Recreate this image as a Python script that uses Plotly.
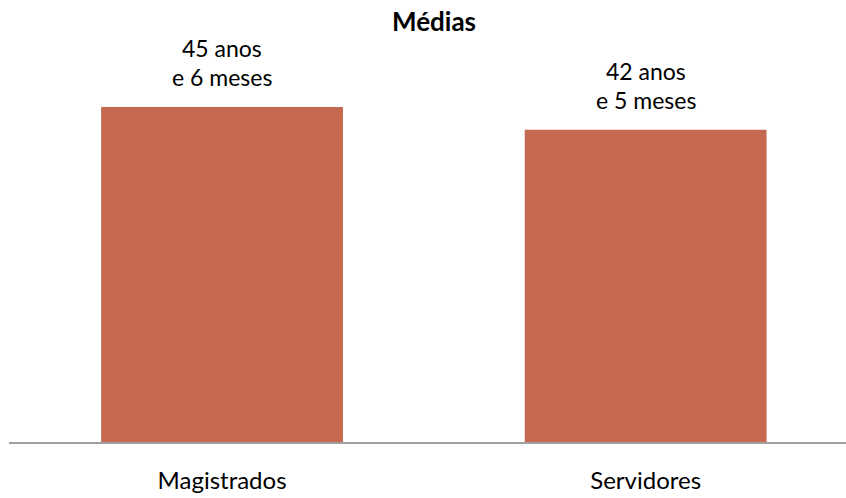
import plotly.graph_objects as go

categories = ["Magistrados", "Servidores"]
values = [45.5, 42.4167]  # average age in years
line1 = ["45 anos", "42 anos"]
line2 = ["e 6 meses", "e 5 meses"]

FONT = "Lato, Open Sans, sans-serif"
VAL_SIZE = 23

fig = go.Figure(go.Bar(
    x=categories, y=values,
    marker=dict(color="#C56A50", line=dict(width=0)),
    hoverinfo="skip",
))

for c, v, a, b in zip(categories, values, line1, line2):
    fig.add_annotation(x=c, y=v, text=b, showarrow=False, yanchor="bottom",
                       yshift=14, font=dict(size=VAL_SIZE, color="#000", family=FONT))
    fig.add_annotation(x=c, y=v, text=a, showarrow=False, yanchor="bottom",
                       yshift=43, font=dict(size=VAL_SIZE, color="#000", family=FONT))

fig.update_layout(
    width=846, height=498,
    margin=dict(l=9, r=0, t=40, b=56, autoexpand=False),
    paper_bgcolor="white", plot_bgcolor="white",
    bargap=0.429,
    showlegend=False,
    title=dict(text="<b>Médias</b>", x=0.513, xanchor="center", xref="container",
               y=1 - 22 / 498, yanchor="middle", yref="container",
               font=dict(size=26, color="#000", family=FONT)),
    font=dict(family=FONT, size=VAL_SIZE, color="#000"),
)
fig.update_xaxes(range=[-0.503, 1.473], showline=True, linecolor="#A0A0A0", linewidth=2,
                 ticks="", ticklabelstandoff=16, tickfont=dict(size=24, family=FONT),
                 showgrid=False, fixedrange=True, automargin=False)
fig.update_yaxes(range=[0, 54.6], visible=False, showgrid=False, zeroline=False,
                 automargin=False)

fig.write_html("out.html", config={"displayModeBar": False},
               post_script="document.body.style.margin='0px';document.body.style.overflow='hidden';")
